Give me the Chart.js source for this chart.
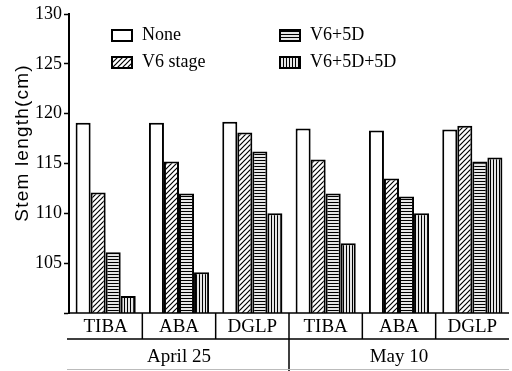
<!DOCTYPE html>
<html>
<head>
<meta charset="utf-8">
<script src="https://cdn.jsdelivr.net/npm/chart.js@4"></script>
<style>
  html, body { margin: 0; padding: 0; background: #fff; }
  #wrap { width: 512px; height: 371px; position: relative; }
</style>
</head>
<body>
<div id="wrap"><canvas id="stemChart"></canvas></div>
<script>
// Stem length by treatment, two sampling dates

const categories = ['TIBA', 'ABA', 'DGLP', 'TIBA', 'ABA', 'DGLP'];
const dates = ['April 25', 'May 10'];
const seriesNames = ['None', 'V6 stage', 'V6+5D', 'V6+5D+5D'];
const yTitle = 'Stem length(cm)';

const noneVals  = [119.1, 119.1, 119.2, 118.5, 118.3, 118.4];
const v6Vals    = [112.1, 115.2, 118.1, 115.4, 113.5, 118.8];
const v65dVals  = [106.1, 112.0, 116.2, 112.0, 111.7, 115.2];
const v655dVals = [101.7, 104.1, 110.0, 107.0, 110.0, 115.6];

const yTicks = [105, 110, 115, 120, 125, 130];

// fill patterns (blank, diagonal hatch, horizontal lines, vertical lines)
function makePattern(kind) {
    const c = document.createElement('canvas');
    const size = kind === 'diag' ? 5 : 3;
    c.width = size;
    c.height = size;
    const g = c.getContext('2d');
    g.fillStyle = '#fff';
    g.fillRect(0, 0, size, size);
    g.strokeStyle = '#000';
    g.lineWidth = 1.2;
    g.beginPath();
    if (kind === 'diag') {
        g.moveTo(0, size); g.lineTo(size, 0);
        g.moveTo(-size / 2, size / 2); g.lineTo(size / 2, -size / 2);
        g.moveTo(size / 2, size * 1.5); g.lineTo(size * 1.5, size / 2);
    } else if (kind === 'horiz') {
        g.moveTo(0, 1.5); g.lineTo(size, 1.5);
    } else if (kind === 'vert') {
        g.moveTo(1.5, 0); g.lineTo(1.5, size);
    }
    g.stroke();
    return g.createPattern(c, 'repeat');
}

const fills = [
    '#ffffff',
    makePattern('diag'),
    makePattern('horiz'),
    makePattern('vert')
];

const allVals = [noneVals, v6Vals, v65dVals, v655dVals];

const datasets = allVals.map((vals, i) => ({
    label: seriesNames[i],
    data: vals,
    backgroundColor: fills[i],
    borderColor: '#000',
    borderWidth: 2,
    borderSkipped: 'bottom',
    barPercentage: 1,
    categoryPercentage: 0.82
}));

// legend drawn in the top area, 2 x 2
const legendPlugin = {
    id: 'cornerLegend',
    afterDraw(chart) {
        const ctx = chart.ctx;
        const cols = [112, 280];
        const rows = [35, 62];
        ctx.save();
        ctx.font = '18px "Liberation Serif", serif';
        ctx.textBaseline = 'middle';
        ctx.textAlign = 'left';
        seriesNames.forEach((name, i) => {
            const x = cols[Math.floor(i / 2)];
            const y = rows[i % 2];
            ctx.fillStyle = fills[i];
            ctx.fillRect(x, y - 5, 20, 11);
            ctx.strokeStyle = '#000';
            ctx.lineWidth = 2;
            ctx.strokeRect(x, y - 5, 20, 11);
            ctx.fillStyle = '#000';
            ctx.fillText(name, x + 30, y);
        });
        ctx.restore();
    }
};

// y title, a bit above centre like the original
const yTitlePlugin = {
    id: 'yTitle',
    afterDraw(chart) {
        const ctx = chart.ctx;
        ctx.save();
        ctx.translate(23, 143);
        ctx.rotate(-Math.PI / 2);
        ctx.font = '19px "Liberation Sans", sans-serif';
        ctx.letterSpacing = '1.2px';
        ctx.fillStyle = '#000';
        ctx.textAlign = 'center';
        ctx.textBaseline = 'middle';
        ctx.fillText(yTitle, 0, 0);
        ctx.restore();
    }
};

// boxed category labels and date row under the plot
const bottomAxisPlugin = {
    id: 'groupedAxis',
    afterDraw(chart) {
        const ctx = chart.ctx;
        const area = chart.chartArea;
        const xs = chart.scales.x;
        const half = (xs.getPixelForValue(1) - xs.getPixelForValue(0)) / 2;
        const rowY = area.bottom + 26;
        const h = chart.height;

        ctx.save();
        ctx.strokeStyle = '#000';
        ctx.lineWidth = 1.5;
        ctx.beginPath();
        ctx.moveTo(area.left, area.bottom);
        ctx.lineTo(area.right, area.bottom);
        ctx.moveTo(area.left - 2, rowY);
        ctx.lineTo(area.right, rowY);
        for (let i = 1; i < categories.length; i++) {
            const bx = xs.getPixelForValue(i) - half;
            ctx.moveTo(bx, area.bottom);
            ctx.lineTo(bx, rowY);
        }
        const midX = xs.getPixelForValue(3) - half;
        ctx.moveTo(midX, rowY);
        ctx.lineTo(midX, h);
        ctx.stroke();

        ctx.strokeStyle = '#bbb';
        ctx.lineWidth = 1;
        ctx.beginPath();
        ctx.moveTo(area.left - 2, h - 1.5);
        ctx.lineTo(area.right, h - 1.5);
        ctx.stroke();

        ctx.fillStyle = '#000';
        ctx.font = '19px "Liberation Serif", serif';
        ctx.textAlign = 'center';
        ctx.textBaseline = 'middle';
        categories.forEach((c, i) => {
            ctx.fillText(c, xs.getPixelForValue(i), area.bottom + 14);
        });
        dates.forEach((d, j) => {
            const cx = (xs.getPixelForValue(j * 3) + xs.getPixelForValue(j * 3 + 2)) / 2;
            ctx.fillText(d, cx, rowY + 18);
        });
        ctx.restore();
    }
};

new Chart(document.getElementById('stemChart'), {
    type: 'bar',
    data: {
        labels: categories,
        datasets: datasets
    },
    options: {
        responsive: true,
        maintainAspectRatio: false,
        animation: false,
        layout: {
            padding: { top: 14, right: 3, bottom: 58, left: 0 }
        },
        plugins: {
            legend: { display: false },
            tooltip: { enabled: false }
        },
        scales: {
            x: {
                display: false,
                offset: true
            },
            y: {
                min: 100,
                max: 130,
                afterFit(scale) { scale.width = 69; },
                afterBuildTicks(scale) {
                    scale.ticks = [100].concat(yTicks).map(v => ({ value: v }));
                },
                ticks: {
                    color: '#000',
                    padding: 2,
                    font: { family: '"Liberation Serif", serif', size: 18 },
                    callback: v => (v === 100 ? '' : v)
                },
                grid: {
                    drawOnChartArea: false,
                    tickLength: 5,
                    tickWidth: 1.5,
                    tickColor: '#000'
                },
                border: { color: '#000', width: 2 }
            }
        }
    },
    plugins: [legendPlugin, yTitlePlugin, bottomAxisPlugin]
});
</script>
</body>
</html>
